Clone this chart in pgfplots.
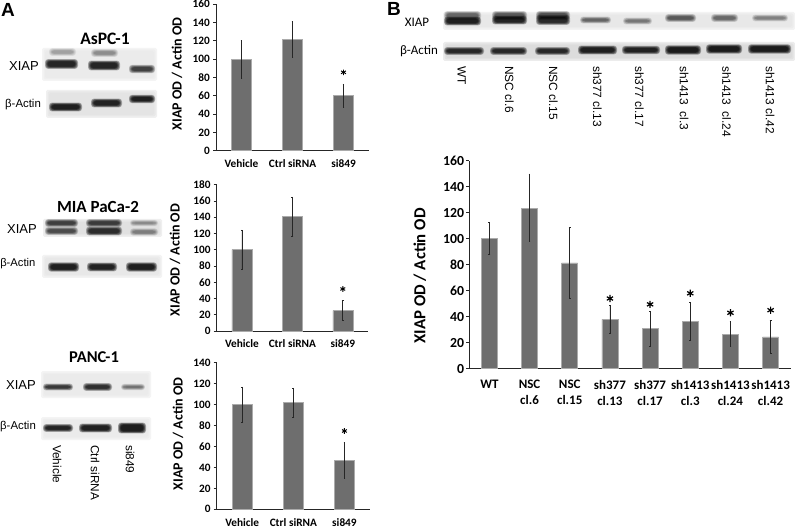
\documentclass[border=0pt]{standalone}
\usepackage{pgfplots}
\pgfplotsset{compat=1.18}
\usepackage{fontspec}
\setmainfont{Carlito}
\newfontfamily\arial{Liberation Sans}
\newcommand{\fs}[1]{\fontsize{#1}{#1}\selectfont}
\definecolor{barc}{HTML}{6E6E6E}
\definecolor{baredge}{HTML}{ABABAB}
% blot helpers (pixel coordinates, y downward)
\newcommand{\panel}[5]{%
  \foreach \d/\o in {0/0.5,1.5/0.6,3/0.8}{
    \fill[black!#5,opacity=\o,rounded corners=1.5pt] (#1+\d,#2+\d) rectangle (#3-\d,#4-\d);
  }}
\newcommand{\band}[5]{%
  \foreach \d in {3.0,2.4,1.8,1.2,0.7,0.2}{
    \fill[black,opacity=#5/3.3,rounded corners=3pt] (#1-\d,#3-#4/2-\d*0.8) rectangle (#2+\d,#3+#4/2+\d*0.8);
  }}
\pgfplotsset{
  mybar/.style={
    scale only axis, axis x line=bottom, axis y line=left,
    axis line style={-,line width=1pt,black!85},
    tick align=outside, major tick length=3pt,
    y tick style={line width=0.7pt,black!85},
    x tick style={draw=none},
    xtick={0,1,2}, xticklabels={Vehicle,Ctrl siRNA,si849},
    xmin=-0.5, xmax=2.5, ymin=0,
    /pgf/number format/assume math mode=true,
    yticklabel style={font=\fs{11.3}\bfseries, inner sep=3pt},
    xticklabel style={font=\fs{11.3}\bfseries, yshift=-2.5pt},
    ylabel style={font=\fs{14}\bfseries},
    clip=false,
  },
  mybars/.style={ybar, bar shift=0pt, bar width=20pt, fill=barc, draw=baredge, line width=0.5pt,
    error bars/.cd, y dir=both, y explicit,
    error bar style={black!85,line width=0.6pt},
    error mark options={rotate=90,mark size=0.9pt,black!85},
    /pgfplots/.cd},
  mystar/.style={only marks, mark=asterisk, mark size=2.8pt, black, mark options={line width=0.95pt}},
}
\begin{document}
\begin{tikzpicture}
\useasboundingbox (0,0) rectangle (795pt,528pt);
\fill[white] (0,0) rectangle (795pt,528pt);

\begin{scope}[x=1pt,y=-1pt,yshift=528pt]
% ---- panel letters
\node[font=\arial\fs{19}\bfseries] at (8,10) {A};
\node[font=\arial\fs{19}\bfseries] at (394,9) {B};
% ---- AsPC-1
\node[font=\fs{17.5}\bfseries] at (105,39) {AsPC-1};
\panel{42}{48}{157}{81}{8}
\panel{46}{90}{157}{118}{11}
\band{52}{73}{52}{3}{0.2}
\band{94}{115}{53}{3}{0.26}
\band{48}{75}{64}{5}{0.85}
\band{91}{117}{65.5}{5}{0.85}
\band{132}{152}{69}{3.5}{0.62}
\band{52}{79}{107}{4}{0.92}
\band{94}{119}{103}{4}{0.88}
\band{132}{152}{99}{3.5}{0.9}
\node[font=\arial\fs{13}] at (24,66) {XIAP};
\node[font=\arial\fs{11.4}] at (23,105) {β-Actin};
% ---- MIA PaCa-2
\node[font=\fs{17}\bfseries] at (98,207) {MIA PaCa-2};
\panel{43}{219}{162}{237}{12}
\panel{42}{255}{162}{278}{9}
\band{48}{75}{223}{3}{0.62}
\band{48}{75}{231}{3}{0.55}
\band{89}{119}{223}{3}{0.65}
\band{89}{119}{231}{4}{0.78}
\band{133}{155}{223}{1.5}{0.25}
\band{133}{155}{232}{2.5}{0.3}
\band{51}{76}{267}{4.5}{0.92}
\band{90}{114}{267}{4}{0.88}
\band{129}{154}{267}{4.5}{0.9}
\node[font=\arial\fs{13}] at (22,229) {XIAP};
\node[font=\arial\fs{11.2}] at (17.8,264) {β-Actin};
% ---- PANC-1
\node[font=\fs{16.5}\bfseries] at (94,357) {PANC-1};
\panel{41}{371}{151}{398}{8}
\panel{41}{417}{151}{440}{8}
\band{46}{70}{387}{2}{0.68}
\band{86}{109}{387}{3}{0.76}
\band{124}{142}{387}{1.5}{0.36}
\band{46}{70}{428}{3}{0.88}
\band{82}{109}{428}{4}{0.9}
\band{121}{143}{428}{6}{0.95}
\node[font=\arial\fs{13}] at (21,385) {XIAP};
\node[font=\arial\fs{11.4}] at (18,427) {β-Actin};
\node[font=\arial\fs{11.8},rotate=-90,anchor=west,inner xsep=0pt] at (57,445) {Vehicle};
\node[font=\arial\fs{11.8},rotate=-90,anchor=west,inner xsep=0pt] at (95,445) {Ctrl siRNA};
\node[font=\arial\fs{11.8},rotate=-90,anchor=west,inner xsep=0pt] at (130,445) {si849};
% ---- B blots
\panel{443}{12}{795}{30}{9}
\panel{443}{42}{795}{61}{14}
\band{447}{478}{15.5}{4}{0.42}
\band{447}{478}{21}{4}{0.9}
\band{495}{524}{15.5}{4}{0.48}
\band{495}{524}{20}{4}{0.88}
\band{539}{567}{15.5}{4}{0.55}
\band{539}{567}{20}{5}{0.8}
\band{583}{608}{20}{2}{0.42}
\band{626}{649}{21}{2}{0.34}
\band{668}{693}{18}{3}{0.48}
\band{714}{735}{18}{3}{0.4}
\band{755}{785}{18}{2}{0.3}
\band{447}{481}{51}{3}{0.82}
\band{493}{524}{51}{3}{0.82}
\band{538}{567}{51}{3}{0.82}
\band{581}{614}{50}{4}{0.9}
\band{625}{657}{50}{3.5}{0.88}
\band{668}{698}{50}{4.5}{0.95}
\band{709}{739}{49}{4.5}{0.95}
\band{751}{788}{49}{4.5}{0.95}
\node[font=\fs{13}] at (417,22.7) {XIAP};
\node[font=\fs{13}] at (419,51) {β-Actin};
\foreach \x/\t in {461.7/WT,509.3/NSC cl.6,553.3/NSC cl.15,597.3/sh377 cl.13,639.3/sh377 cl.17,684/sh1413\ \ cl.3,726.7/sh1413\ \ cl.24,770/sh1413\ cl.42}{
  \node[font=\arial\fs{11.9},rotate=-90,anchor=west,inner xsep=0pt] at (\x,66) {\t};
}
\end{scope}

% ---- AsPC-1 chart
\begin{axis}[mybar, at={(216pt,377.3pt)}, anchor=south west, width=153pt, height=146.7pt,
  ymax=160, ytick={0,20,...,160}, ylabel={XIAP OD / Actin OD},
  ylabel style={at={(axis description cs:-0.255,0.523)},anchor=center}]
\addplot[mybars] table[x=x,y=y,y error plus=p,y error minus=m]{
x y p m
0 100 20.5 21
1 121.5 19.5 19.5
2 60 13 12.5
};
\addplot[mystar] coordinates {(2,85.5)};
\end{axis}
% ---- MIA chart
\begin{axis}[mybar, at={(216.7pt,197pt)}, anchor=south west, width=151.3pt, height=146.3pt,
  ymax=180, ytick={0,20,...,180}, ylabel={XIAP OD / Actin OD},
  ylabel style={at={(axis description cs:-0.276,0.485)},anchor=center}]
\addplot[mybars] table[x=x,y=y,y error plus=p,y error minus=m]{
x y p m
0 100 24.5 24
1 141 24 24
2 25 13 12
};
\addplot[mystar] coordinates {(2,51.7)};
\end{axis}
% ---- PANC chart
\begin{axis}[mybar, at={(216.7pt,18.7pt)}, anchor=south west, width=153.3pt, height=146.6pt,
  ymax=140, ytick={0,20,...,140}, ylabel={XIAP OD / Actin OD},
  ylabel style={at={(axis description cs:-0.253,0.514)},anchor=center}]
\addplot[mybars] table[x=x,y=y,y error plus=p,y error minus=m]{
x y p m
0 100 17 17
1 102 14 14
2 47 17 17
};
\addplot[mystar] coordinates {(2,74.8)};
\end{axis}
% ---- B chart
\begin{axis}[mybar, at={(469.3pt,159.3pt)}, anchor=south west, width=321.4pt, height=208pt,
  ymax=160, ytick={0,20,...,160}, xmin=-0.5, xmax=7.5,
  xtick={0,...,7},
  xticklabels={{WT},{NSC\\cl.6},{NSC\\cl.15},{sh377\\cl.13},{sh377\\cl.17},{sh1413\\cl.3},{sh1413\\cl.24},{sh1413\\cl.42}},
  xticklabel style={font=\fontsize{13}{15.7}\selectfont\bfseries, align=center, anchor=north, yshift=-2.5pt},
  yticklabel style={font=\fs{13.8}\bfseries, inner sep=2pt},
  axis line style={-,line width=1.3pt,black!85},
  ylabel={XIAP OD / Actin OD},
  ylabel style={font=\fs{16.8}\bfseries, at={(axis description cs:-0.154,0.446)},anchor=center}]
\addplot[mybars, bar width=16pt] table[x=x,y=y,y error plus=p,y error minus=m]{
x y p m
0 100 12.5 12
1 123.5 26.5 25.5
2 81.5 27 27.5
3 38 11 11
4 31 13 13.5
5 36.5 14.5 14.5
6 26.5 10 9.5
7 24.5 12.5 12.5
};
\addplot[mystar, mark size=3.6pt, mark options={line width=1.2pt}] coordinates {(3,54) (4,49.5) (5,58) (6,43) (7,45)};
\end{axis}
\end{tikzpicture}
\end{document}
